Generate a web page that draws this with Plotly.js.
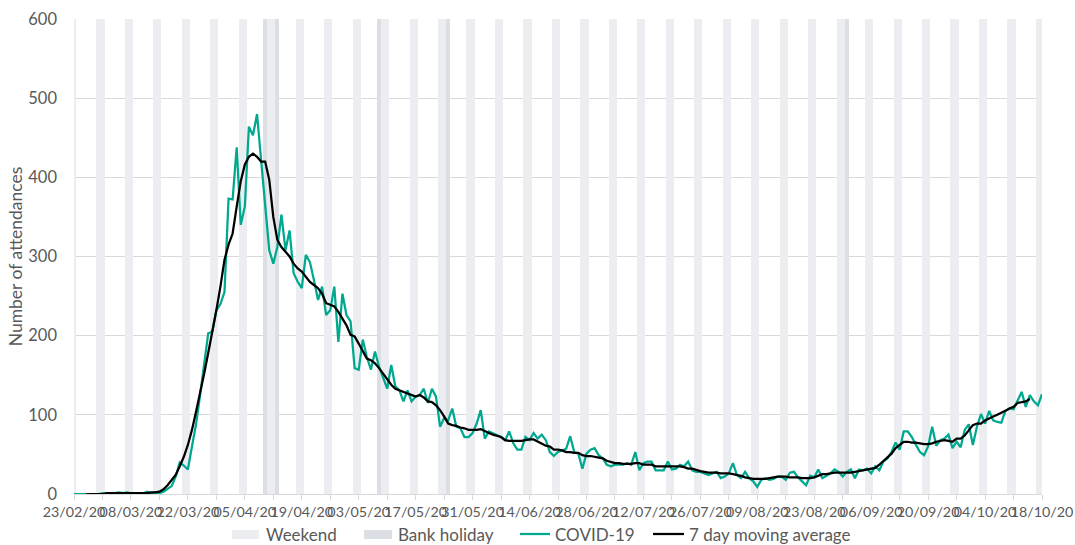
<!DOCTYPE html>
<html>
<head>
<meta charset="utf-8">
<script src="https://cdn.plot.ly/plotly-3.0.1.min.js"></script>
<style>html,body{margin:0;padding:0;background:#fff;}#chart{width:1075px;height:545px;}</style>
</head>
<body>
<div id="chart"></div>
<script>
// ---- Data ----
const startDate = '2020-02-23';
const covid = [
  0,0,0,0,0,0,0,1,0,1,
  1,2,1,2,1,0,1,1,3,1,
  2,1,3,6,10,22,40,36,31,60,
  88,125,165,203,205,232,240,255,373,372,
  438,340,363,464,453,480,422,365,308,291,
  312,353,308,333,279,268,260,302,293,270,
  245,262,226,232,262,192,253,226,218,159,
  157,195,173,157,180,161,148,133,163,136,
  131,117,131,117,123,125,133,115,133,123,
  85,96,93,108,85,83,72,72,77,89,
  106,70,79,77,75,72,68,79,64,56,
  56,72,68,77,70,75,68,53,48,53,
  55,57,73,53,51,32,51,56,58,49,
  45,37,35,37,37,37,39,37,53,30,
  39,41,41,30,30,30,41,31,32,37,
  35,41,30,28,28,26,24,26,28,20,
  22,26,39,24,20,28,20,16,9,18,
  20,18,19,22,22,18,27,28,21,16,
  11,23,21,31,20,23,26,31,28,22,
  28,31,20,31,30,32,26,35,30,41,
  45,53,65,56,79,79,72,62,53,49,
  60,85,61,68,70,75,58,66,59,81,
  88,62,85,101,89,105,93,91,90,105,
  108,107,119,129,110,125,117,112,126
];
const movingAvg = [
  null,null,null,0,0,0,0,0,1,1,
  1,1,1,1,1,1,1,1,1,2,
  2,3,6,11,18,24,35,47,62,81,
  104,127,152,178,203,232,262,296,315,329,
  363,395,416,426,430,426,420,420,397,350,
  321,312,306,300,291,285,281,275,268,264,
  260,253,241,239,237,230,222,213,201,199,
  190,180,171,169,165,159,152,146,138,133,
  131,129,126,124,123,125,122,117,116,112,
  106,98,89,87,86,84,83,81,81,81,
  82,79,77,75,73,72,68,67,67,67,
  67,68,69,69,66,63,61,60,56,56,
  55,53,53,52,52,49,48,48,47,46,
  45,42,40,39,39,38,38,38,39,39,
  37,37,37,35,35,35,35,35,35,35,
  34,32,32,30,29,28,27,27,27,26,
  26,26,25,24,23,21,20,19,19,19,
  19,20,21,22,22,22,21,21,21,20,
  20,20,21,23,25,25,26,27,27,27,
  27,27,28,29,30,31,32,33,37,42,
  46,51,58,62,66,66,65,65,64,63,
  63,64,66,67,68,67,66,70,70,74,
  81,87,89,89,93,96,98,100,102,105,
  108,110,115,116,117,120,null,null,null
];
const bankHolidays = ['2020-04-10','2020-04-13','2020-05-08','2020-05-25','2020-08-31'];
const bandTop = 600;
const seriesNames = ['Weekend','Bank holiday','COVID-19','7 day moving average'];

// ---- Styles ----
const COL_WEEKEND = '#ebedf0', COL_BANK = '#dbdee2', COL_COVID = '#00a88f', COL_MA = '#000000';
const FONT = 'Lato, "Liberation Sans", Arial, sans-serif';
const TXT = '#595959';
const W = 1075, H = 545, ML = 74, MR = 33, MT = 19, MB = 51;
const PW = W - ML - MR, PH = H - MT - MB;
const px = x => (x - ML) / PW;
const py = y => (MT + PH - y) / PH;

// ---- Build categories (daily dates) ----
function addDays(s, n){ const d = new Date(s + 'T00:00:00Z'); d.setUTCDate(d.getUTCDate() + n); return d.toISOString().slice(0,10); }
const dates = covid.map((_, i) => addDays(startDate, i));
const weekendDates = dates.filter(s => { const w = new Date(s + 'T00:00:00Z').getUTCDay(); return w === 0 || w === 6; });
const DAY = 86400000;

const traces = [
  { type:'bar', name:seriesNames[0], x:weekendDates, y:weekendDates.map(()=>bandTop), width:DAY,
    marker:{color:COL_WEEKEND, line:{width:0}}, hoverinfo:'skip', showlegend:false },
  { type:'bar', name:seriesNames[1], x:bankHolidays, y:bankHolidays.map(()=>bandTop), width:DAY,
    marker:{color:COL_BANK, line:{width:0}}, hoverinfo:'skip', showlegend:false },
  { type:'scatter', mode:'lines', name:seriesNames[2], x:dates, y:covid,
    line:{color:COL_COVID, width:2.25}, showlegend:false },
  { type:'scatter', mode:'lines', name:seriesNames[3], x:dates, y:movingAvg,
    line:{color:COL_MA, width:2.25}, connectgaps:false, showlegend:false }
];

// ---- Legend (drawn below the plot, like the original) ----
const legendItems = [
  {kind:'rect', color:COL_WEEKEND, x0:232, x1:259, tx:265, label:seriesNames[0]},
  {kind:'rect', color:COL_BANK,    x0:364, x1:392, tx:397, label:seriesNames[1]},
  {kind:'line', color:COL_COVID,   x0:520, x1:550, tx:554, label:seriesNames[2]},
  {kind:'line', color:COL_MA,      x0:653, x1:684, tx:688, label:seriesNames[3]}
];
const legendY = 534;
const shapes = [], annotations = [];
legendItems.forEach(it => {
  if (it.kind === 'rect') {
    shapes.push({type:'rect', xref:'paper', yref:'paper', x0:px(it.x0), x1:px(it.x1), y0:py(legendY+5), y1:py(legendY-4),
      fillcolor:it.color, line:{width:0}});
  } else {
    shapes.push({type:'line', xref:'paper', yref:'paper', x0:px(it.x0), x1:px(it.x1), y0:py(legendY), y1:py(legendY),
      line:{color:it.color, width:2.25}});
  }
  annotations.push({xref:'paper', yref:'paper', x:px(it.tx), y:py(legendY), xanchor:'left', yanchor:'middle',
    text:it.label, showarrow:false, font:{size:17, color:TXT, family:FONT}, borderpad:0});
});

const layout = {
  width:W, height:H,
  margin:{l:ML, r:MR, t:MT, b:MB},
  paper_bgcolor:'#ffffff', plot_bgcolor:'#ffffff',
  font:{family:FONT, color:TXT},
  barmode:'overlay', bargap:0,
  showlegend:false,
  shapes:shapes, annotations:annotations,
  xaxis:{
    type:'date', range:[dates[0], dates[dates.length-1]], automargin:false,
    tick0:dates[0], dtick:14*DAY, tickformat:'%d/%m/%y', tickangle:0,
    ticks:'outside', ticklen:5, tickcolor:'#d9d9d9', tickwidth:1,
    showline:true, linecolor:'#d9d9d9', linewidth:1, showgrid:false, zeroline:false,
    tickfont:{size:14.3, color:TXT, family:FONT},
    minor:{tick0:dates[0], dtick:7*DAY, ticks:'outside', ticklen:5, tickcolor:'#d9d9d9', showgrid:false}
  },
  yaxis:{
    range:[0,600], dtick:100, tick0:0, automargin:false,
    showgrid:true, gridcolor:'#d9d9d9', gridwidth:1, zeroline:false, showline:false,
    ticks:'', tickfont:{size:16.5, color:TXT, family:FONT}, ticklabelstandoff:16,
    title:{text:'Number of attendances', font:{size:17.5, color:TXT, family:FONT}, standoff:1}
  }
};

Plotly.newPlot('chart', traces, layout, {displayModeBar:false, staticPlot:true});
</script>
</body>
</html>
